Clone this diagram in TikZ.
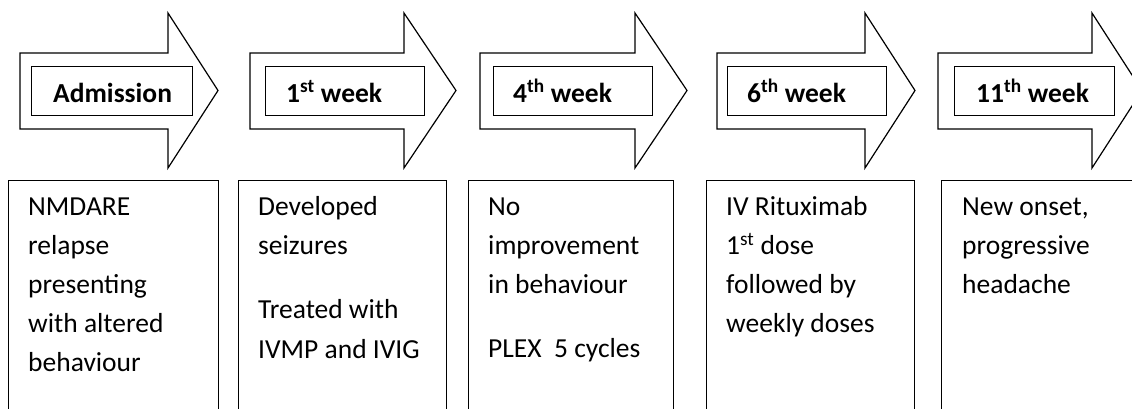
\documentclass[tikz,border=0pt]{standalone}
\usepackage{fontspec}
\setmainfont{Carlito}
\begin{document}
\begin{tikzpicture}[x=1pt,y=-1pt,
  arr/.style={draw=black, line width=1.2pt, line join=miter, fill=white},
  lblbox/.style={draw, line width=1.2pt, inner sep=0pt, anchor=north west, minimum height=49pt},
  lbl/.style={font=\fontsize{27.5}{33}\selectfont\bfseries, inner sep=0pt, anchor=base west},
  infobox/.style={draw, line width=1.3pt, inner sep=0pt, anchor=north west, minimum height=260pt},
  info/.style={font=\fontsize{27.5}{39.2}\selectfont, inner sep=0pt, anchor=base west, align=left},
]
\useasboundingbox (0,0) rectangle (1132,408);
\begin{scope}
\clip (0,0) rectangle (1132,408);

% timeline arrows
\foreach \xl/\xb/\xt in {20/168/218, 250/404/456, 480/635/687, 717/865/915, 938/1092/1142}{
  \draw[arr] (\xl,53) -- (\xb,53) -- (\xb,13) -- (\xt,90.5) -- (\xb,168) -- (\xb,129) -- (\xl,129) -- cycle;
}

% label frames
\node[lblbox, minimum width=161pt] (r1) at (31,66) {};
\node[lblbox, minimum width=159pt] (r2) at (265,66) {};
\node[lblbox, minimum width=159pt] (r3) at (493,66) {};
\node[lblbox, minimum width=159pt] (r4) at (727,66) {};
\node[lblbox, minimum width=160pt] (r5) at (954,66) {};

% labels
\node[lbl] (l1) at (53,102) {Admission};
\node[lbl] (l2) at (286,102) {1\textsuperscript{st} week};
\node[lbl] (l3) at (513,102) {4\textsuperscript{th} week};
\node[lbl] (l4) at (747,102) {6\textsuperscript{th} week};
\node[lbl] (l5) at (976,102) {11\textsuperscript{th} week};

% info boxes
\node[infobox, minimum width=210pt] (b1) at (8,180) {};
\node[infobox, minimum width=208pt] (b2) at (238,180) {};
\node[infobox, minimum width=205pt] (b3) at (468,180) {};
\node[infobox, minimum width=208pt] (b4) at (706,180) {};
\node[infobox, minimum width=220pt] (b5) at (941,180) {};

% info texts (base anchor = baseline of the last line)
\node[info] (t1) at (28,371.8) {NMDARE\\relapse\\presenting\\with altered\\behaviour};
\node[info] (t2) at (258,358.1) {Developed\\seizures\\[25.5pt]Treated with\\IVMP and IVIG};
\node[info] (t3) at (488,357.6) {No\\improvement\\in behaviour\\[25pt]PLEX\ \ 5 cycles};
\node[info] (t4) at (726,332.6) {IV Rituximab\\1\textsuperscript{st} dose\\followed by\\weekly doses};
\node[info] (t5) at (962,293.4) {New onset,\\progressive\\headache};
\end{scope}
\end{tikzpicture}
\end{document}
